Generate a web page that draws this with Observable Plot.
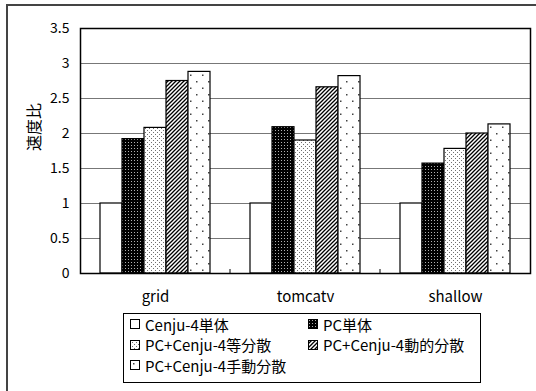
<!DOCTYPE html>
<html><head><meta charset="utf-8">
<script src="https://cdn.jsdelivr.net/npm/d3@7"></script>
<script src="https://cdn.jsdelivr.net/npm/@observablehq/plot@0.6"></script>
<style>
body{margin:0;background:#fff;font-family:"Noto Sans CJK JP","Noto Sans",sans-serif;}
#wrap{position:relative;width:536px;height:391px;overflow:hidden;}
#outer{position:absolute;left:6px;top:4px;width:700px;height:600px;border-top:2px solid #444;border-left:2px solid #444;}
#chart{position:absolute;left:0;top:0;}
#legend{position:absolute;left:123px;top:313px;width:356px;height:68px;border:1px solid #000;background:#fff;
  display:grid;grid-template-columns:178px 178px;grid-auto-rows:20.5px;font-size:15px;color:#000;}
.item{display:flex;align-items:center;white-space:nowrap;}
.item svg{margin-right:5px;flex:none;}
.item.c1{padding-left:6px;}
.item.c2{padding-left:6px;}
</style></head><body>
<svg width="0" height="0" style="position:absolute">
<defs>
<pattern id="pWhite" patternUnits="userSpaceOnUse" width="4" height="4"><rect width="4" height="4" fill="#fff"/></pattern>
<pattern id="pPC" patternUnits="userSpaceOnUse" width="3" height="3"><rect width="3" height="3" fill="#000"/><rect x="1" y="1" width="1" height="1" fill="#b0b0b0"/></pattern>
<pattern id="pEven" patternUnits="userSpaceOnUse" width="4" height="4"><rect width="4" height="4" fill="#fff"/><rect x="0" y="0" width="1" height="1" fill="#707070"/><rect x="2" y="2" width="1" height="1" fill="#707070"/></pattern>
<pattern id="pDyn" patternUnits="userSpaceOnUse" width="4" height="4"><rect width="4" height="4" fill="#fff"/><path d="M-1,1 L1,-1 M0,4 L4,0 M3,5 L5,3" stroke="#000" stroke-width="1.3"/></pattern>
<pattern id="pMan" patternUnits="userSpaceOnUse" width="12" height="13"><rect width="12" height="13" fill="#fff"/><rect x="3" y="3" width="1.5" height="1.5" fill="#444"/><rect x="9" y="9.5" width="1.5" height="1.5" fill="#444"/></pattern>
</defs>
</svg>
<div id="wrap">
  <div id="outer"></div>
  <div id="chart"></div>
  <div id="legend"></div>
</div>
<script>
const categories = ["grid", "tomcatv", "shallow"];
const series = ["Cenju-4単体", "PC単体", "PC+Cenju-4等分散", "PC+Cenju-4動的分散", "PC+Cenju-4手動分散"];
const cenjuValues   = [1.00, 1.00, 1.00];
const pcValues      = [1.92, 2.09, 1.57];
const evenValues    = [2.08, 1.90, 1.78];
const dynamicValues = [2.75, 2.66, 2.00];
const manualValues  = [2.88, 2.82, 2.13];
const yTicks = [0, 0.5, 1, 1.5, 2, 2.5, 3, 3.5];
const yTickLabels = ["0", "0.5", "1", "1.5", "2", "2.5", "3", "3.5"];
const fills = ["url(#pWhite)", "url(#pPC)", "url(#pEven)", "url(#pDyn)", "url(#pMan)"];
const yLabel = "速度比";

const valueSets = [cenjuValues, pcValues, evenValues, dynamicValues, manualValues];
const data = categories.flatMap((c, i) => series.map((s, j) => ({category: c, series: s, value: valueSets[j][i]})));

const font = '"Noto Sans CJK JP","Noto Sans",sans-serif';
const plot = Plot.plot({
  width: 536, height: 391,
  marginLeft: 79, marginRight: 5, marginTop: 28, marginBottom: 118,
  style: {fontFamily: font, fontSize: "14px", background: "transparent", color: "#000"},
  fx: {domain: categories, padding: 0},
  x: {domain: series, paddingInner: 0, paddingOuter: 0.775, axis: null},
  y: {domain: [0, 3.5], ticks: yTicks},
  color: {domain: series, range: fills},
  marks: [
    Plot.gridY(yTicks, {stroke: "#777", strokeOpacity: 1, strokeWidth: 1}),
    Plot.axisY(yTicks, {tickSize: 0, tickPadding: 11, fontSize: 14, label: null,
      tickFormat: (d) => yTickLabels[yTicks.indexOf(d)]}),
    Plot.axisFx({anchor: "bottom", tickSize: 0, tickPadding: 18, fontSize: 15, label: null}),
    Plot.barY(data, {fx: "category", x: "series", y: "value", fill: "series", stroke: "#000", strokeWidth: 1.2}),
    Plot.frame({facet: "super", stroke: "#000", strokeWidth: 1.5}),
    Plot.text([yLabel], {facet: "super", frameAnchor: "left", rotate: -90, dx: -46, fontSize: 16})
  ]
});
document.getElementById("chart").appendChild(plot);

// small category-boundary ticks on the baseline
const fx = plot.scale("fx");
const y = plot.scale("y");
const svg = d3.select(plot);
categories.slice(1).forEach(c => {
  const xb = fx.apply(c);
  svg.append("line").attr("x1", xb).attr("x2", xb)
    .attr("y1", y.apply(0)).attr("y2", y.apply(0) - 4)
    .attr("stroke", "#000").attr("stroke-width", 1);
});

// legend
const legend = d3.select("#legend");
series.forEach((s, i) => {
  const item = legend.append("div").attr("class", "item " + (i % 2 === 0 ? "c1" : "c2"));
  const sw = item.append("svg").attr("width", 10).attr("height", 10);
  sw.append("rect").attr("x", 0.5).attr("y", 0.5).attr("width", 9).attr("height", 9)
    .attr("fill", fills[i]).attr("stroke", "#000").attr("stroke-width", 1);
  item.append("span").text(s);
});
</script>
</body></html>
